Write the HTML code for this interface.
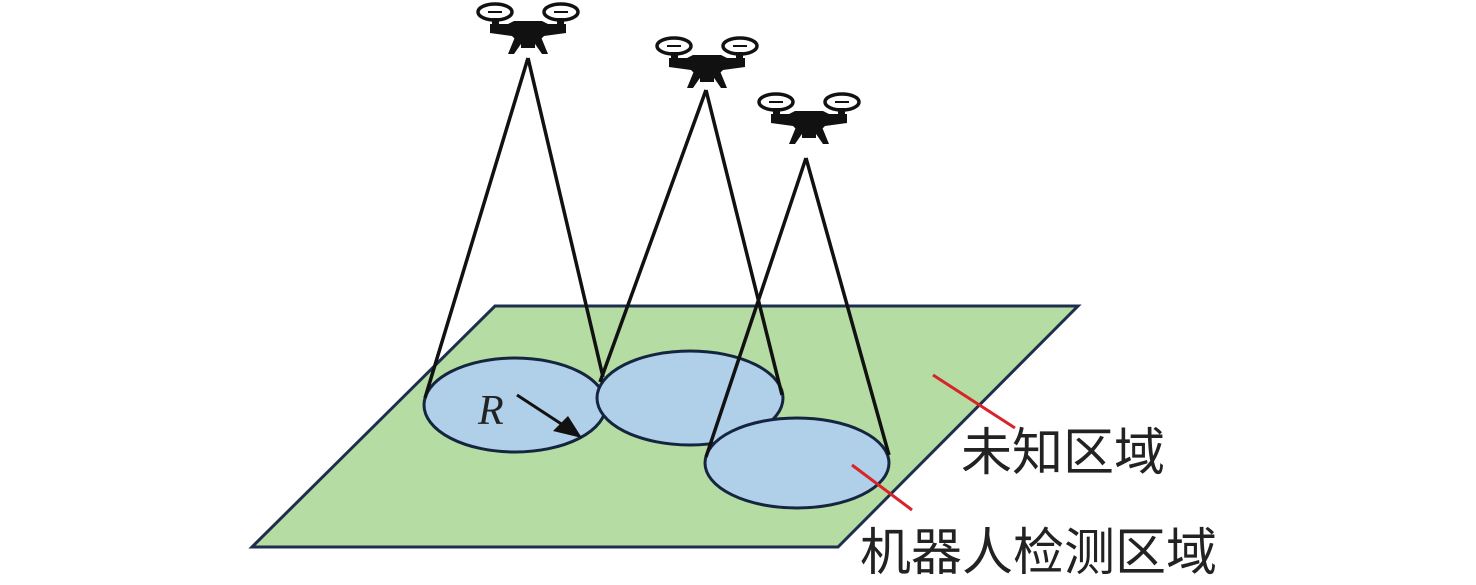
<!DOCTYPE html>
<html><head><meta charset="utf-8"><style>
html,body{margin:0;padding:0;background:#fff;}
svg{display:block}
</style></head><body>
<svg width="1476" height="585" viewBox="0 0 1476 585" xmlns="http://www.w3.org/2000/svg">
<defs>
<g id="drone">
<ellipse cx="-33" cy="-12" rx="17" ry="8" fill="none" stroke="#111" stroke-width="3.5"/>
<ellipse cx="33" cy="-12" rx="17" ry="8" fill="none" stroke="#111" stroke-width="3.5"/>
<line x1="-40" y1="-12" x2="-26" y2="-12" stroke="#111" stroke-width="2"/>
<line x1="26" y1="-12" x2="40" y2="-12" stroke="#111" stroke-width="2"/>
<rect x="-36" y="-6" width="7" height="10" fill="#111"/>
<rect x="29" y="-6" width="7" height="10" fill="#111"/>
<path d="M-38,0 L-20,0 L-14,-3 L14,-3 L20,0 L38,0 L38,9 L16,12 L12,16 L-12,16 L-16,12 L-38,9 Z" fill="#111"/>
<path d="M-13,13 L-20,30 L-14,30 L-5,17 Z M13,13 L20,30 L14,30 L5,17 Z" fill="#111"/>
<rect x="-7" y="14" width="14" height="10" fill="#111"/>
</g>
</defs>
<polygon points="495,306 1078,306 838,547 252,547" fill="#b5dca2" stroke="#1e2f4d" stroke-width="3"/>
<g fill="#b0cfe8" stroke="#15253f" stroke-width="3">
<ellipse cx="515" cy="405" rx="91" ry="47"/>
<ellipse cx="690" cy="398" rx="93" ry="47"/>
<ellipse cx="797" cy="463" rx="92" ry="45"/>
</g>
<g stroke="#111" stroke-width="3.5" fill="none">
<line x1="528" y1="58" x2="425" y2="398"/>
<line x1="528" y1="58" x2="603" y2="377"/>
<line x1="706" y1="90" x2="600" y2="382"/>
<line x1="706" y1="90" x2="782" y2="395"/>
<line x1="806" y1="158" x2="706" y2="457"/>
<line x1="806" y1="158" x2="889" y2="455"/>
</g>
<use href="#drone" transform="translate(528,24)"/>
<use href="#drone" transform="translate(707,58)"/>
<use href="#drone" transform="translate(809,114)"/>
<text x="478" y="424" font-family="Liberation Serif, serif" font-style="italic" font-size="42" fill="#222">R</text>
<line x1="517" y1="395" x2="566" y2="427" stroke="#111" stroke-width="3"/>
<polygon points="582,438 553,431 568,416" fill="#111"/>
<g stroke="#d8232a" stroke-width="3">
<line x1="933" y1="375" x2="1015" y2="428"/>
<line x1="852" y1="465" x2="912" y2="510"/>
</g>
<g font-family="Liberation Sans, 'Noto Sans CJK SC', sans-serif" font-size="51" fill="#222">
<text x="961" y="470">未知区域</text>
<text x="860" y="570">机器人检测区域</text>
</g>
</svg>
</body></html>
